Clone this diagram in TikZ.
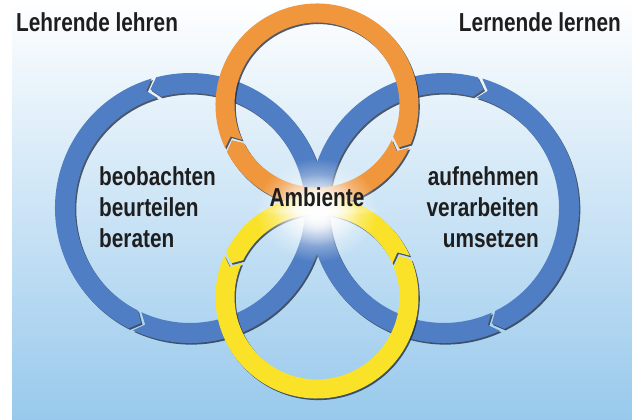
\documentclass[tikz,border=0pt]{standalone}
\usepackage{fontspec}
\setmainfont{Liberation Sans}
\newfontfamily\condfont[FakeStretch=0.8]{Liberation Sans}
\usetikzlibrary{calc,positioning,fadings}
\definecolor{bgblue}{RGB}{152,201,236}
\definecolor{bgmid}{RGB}{194,223,244}
\definecolor{ringblue}{RGB}{79,126,196}
\definecolor{ringorange}{RGB}{240,150,60}
\definecolor{ringyellow}{RGB}{250,226,40}
\definecolor{wordcol}{RGB}{30,30,30}
\tikzfading[name=glowfade, inner color=transparent!0, outer color=transparent!100]
\tikzset{
    diagram/.style={x=1pt,y=1pt},
    blueseg/.style={fill=ringblue},
    orangeseg/.style={fill=ringorange},
    yellowseg/.style={fill=ringyellow},
    segshadow/.style={fill=black!70!ringblue, opacity=0.75,
                      transform canvas={xshift=1.3pt,yshift=-1.6pt}},
    words/.style={font=\condfont\bfseries\fontsize{26}{31}\selectfont,
                  text=wordcol, inner sep=0pt},
    }
\newcommand{\ringpart}[7]{%
  \foreach \st in {segshadow,#7}
    \fill[\st] ($(#1)+(#4:{#2+#3})$) arc[start angle=#4, end angle=#5, radius={#2+#3}]
      -- ($(#1)+({#5+#6}:#2)$) -- ($(#1)+(#5:{#2-#3})$)
      arc[start angle=#5, end angle=#4, radius={#2-#3}]
      -- ($(#1)+({#4+#6}:#2)$) -- cycle;}

\begin{document}
\begin{tikzpicture}[diagram]
    \useasboundingbox (0,0) rectangle (632,420);
    \fill[white] (0,0) rectangle (632,420);
    \shade[top color=white, middle color=bgmid, bottom color=bgblue] (12,0) rectangle (632,420);

    \coordinate (lring) at (190,212);
    \coordinate (rring) at (444,212);
    \coordinate (oring) at (317,315);
    \coordinate (yring) at (317,123);
    \coordinate (glow) at (317,210);

    \ringpart{lring}{125}{10}{106.5}{243}{4}{blueseg}
    \ringpart{lring}{125}{10}{245}{464.5}{4}{blueseg}
    \ringpart{rring}{125}{10}{73.5}{-63.5}{-4}{blueseg}
    \ringpart{rring}{125}{10}{-65.5}{-284.5}{-4}{blueseg}

    \ringpart{oring}{92}{9.5}{205}{-22.5}{-5}{orangeseg}
    \ringpart{oring}{92}{9.5}{-25}{-152.5}{-5}{orangeseg}
    \ringpart{yring}{92}{9.5}{24}{153.5}{5}{yellowseg}
    \ringpart{yring}{92}{9.5}{156}{381.5}{5}{yellowseg}

    \fill[white, path fading=glowfade] (glow) ellipse[x radius=62, y radius=52];
    \fill[white, path fading=glowfade] (glow) ellipse[x radius=44, y radius=36];
    \fill[white, path fading=glowfade] (glow) ellipse[x radius=28, y radius=24];
    \fill[white, path fading=glowfade, opacity=0.6] (glow) ellipse[x radius=70, y radius=6];

    \node[words, anchor=base west] (lehrende) at (16,388) {Lehrende lehren};
    \node[words, anchor=base east] (lernende) at (621,388) {Lernende lernen};
    \node[words, anchor=north west, align=left] (lehrtaetig) at (99,254)
        {beobachten\\beurteilen\\beraten};
    \node[words, anchor=north east, align=right] (lerntaetig) at (539,254)
        {aufnehmen\\verarbeiten\\umsetzen};
    \node[words, anchor=base] (ambiente) at (317,213) {Ambiente};
\end{tikzpicture}
\end{document}
